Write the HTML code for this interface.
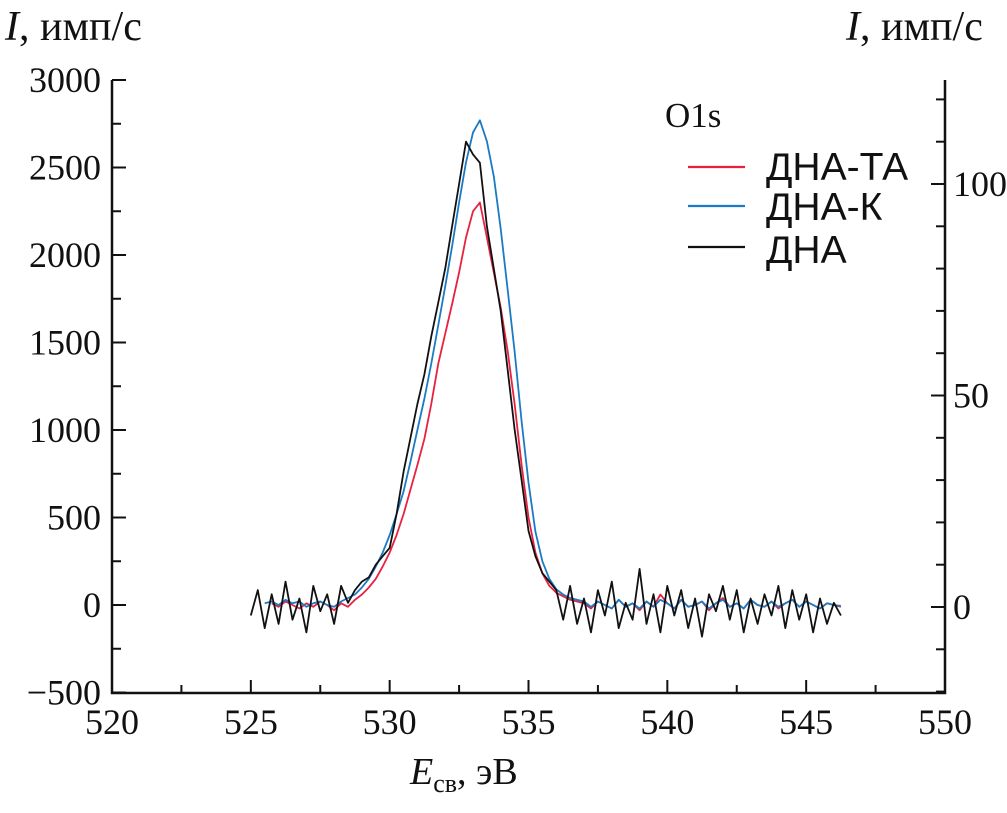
<!DOCTYPE html>
<html><head><meta charset="utf-8"><style>
html,body{margin:0;padding:0;background:#fff;}
svg text{font-family:"Liberation Serif",serif;fill:#111;}
</style></head><body>
<svg id="chart" width="1007" height="808" viewBox="0 0 1007 808" xmlns="http://www.w3.org/2000/svg">
<g id="axes"></g>
<g id="series"></g>
<g id="legend">
 <text x="665" y="127" font-size="35">O1s</text>
 <line x1="688" y1="167" x2="745" y2="167" stroke="#e8213f" stroke-width="2.2"/>
 <text x="766" y="180" font-size="39" style="font-family:'Liberation Sans',sans-serif">ДНА-ТА</text>
 <line x1="688" y1="206" x2="745" y2="206" stroke="#1a7bc4" stroke-width="2.2"/>
 <text x="766" y="220" font-size="39" style="font-family:'Liberation Sans',sans-serif">ДНА-К</text>
 <line x1="688" y1="247" x2="745" y2="247" stroke="#111" stroke-width="2.2"/>
 <text x="766" y="263" font-size="39" style="font-family:'Liberation Sans',sans-serif">ДНА</text>
</g>
<text x="5" y="40" font-size="42"><tspan font-style="italic">I</tspan>, имп/с</text>
<text x="846" y="40" font-size="42"><tspan font-style="italic">I</tspan>, имп/с</text>
<text x="410" y="784" font-size="38"><tspan font-style="italic">E</tspan><tspan font-size="26" dy="8">св</tspan><tspan dy="-8">, эВ</tspan></text>
</svg>
<script>
const energyStart = 525;
const energyStep = 0.25;
const xTicks = [520, 525, 530, 535, 540, 545, 550];
const leftTicks = [-500, 0, 500, 1000, 1500, 2000, 2500, 3000];
const rightTicks = [0, 50, 100];
const seriesDnaTa = [null,null,null,10,-10,20,0,-20,10,-10,20,0,-30,10,-10,30,60,100,150,220,300,400,520,660,800,950,1150,1380,1550,1720,1900,2100,2250,2300,2100,1900,1700,1450,1150,800,500,300,180,110,70,50,30,20,10,-20,20,0,-20,30,-10,10,-30,20,-10,60,10,-20,30,-10,0,20,-30,10,40,-10,10,-20,30,0,-10,20,-20,10,30,-10,20,0,-20,10,0,-10];
const seriesDnaK = [null,null,10,20,0,30,10,20,-10,10,20,0,-10,20,40,60,100,150,220,300,400,520,650,820,1000,1180,1380,1600,1820,2050,2300,2530,2700,2770,2650,2450,2150,1800,1450,1050,700,420,250,150,90,60,40,30,20,-10,20,0,-20,30,-10,10,-20,20,-10,30,10,-20,30,-10,0,20,-20,10,30,-10,10,-20,30,0,-10,20,-10,10,30,-10,20,0,-20,10,0,-5];
const seriesDna = [
 -2,4,-5,3,
 -4,6,-3,2,
 -6,5,-1,3,
 -4,5,1,4,
 6,7,10,12,
 14,22,32,40,
 48,55,64,72,
 80,90,100,110,
 107,105,90,80,
 70,56,42,30,
 18,12,8,6,
 4,-3,5,-4,
 2,-6,4,-2,
 6,-5,1,-3,
 9,-4,3,-6,
 5,-2,4,-5,
 2,-7,3,-1,
 5,-3,4,-6,
 2,-4,3,-2,
 5,-5,4,-3,
 3,-6,2,-4,
 1,-2];
const X0 = 112, X1 = 945, Y0 = 605, YB = 693;
function sx(e){ return X0 + (e-520)*(X1-X0)/30; }
function syL(v){ return Y0 - v*87.5/500; }
function syR(v){ return 607 - v*4.23; }
const NS = "http://www.w3.org/2000/svg";
const axes = document.getElementById('axes');
function mk(tag, attrs, parent){ const el=document.createElementNS(NS,tag); for(const k in attrs) el.setAttribute(k,attrs[k]); parent.appendChild(el); return el; }
let el = mk('path',{d:`M${X0},80 V${YB} H${X1} V80`,fill:'none',stroke:'#111','stroke-width':2.5},axes);


for(let e=520;e<=550;e+=2.5){
  const major = (e%5===0);
  el = mk('line',{x1:sx(e),x2:sx(e),y1:YB,y2:YB-(major?13:8),stroke:'#111','stroke-width':2},axes);
  
  
}
xTicks.forEach(t=>{
  el = mk('text',{x:sx(t),y:734,'font-size':36,'text-anchor':'middle'},axes);
  el.textContent = t;
  
  
});
for(let v=-500;v<=3000;v+=250){
  const major = (v%500===0);
  el = mk('line',{x1:X0,x2:X0+(major?14:9),y1:syL(v),y2:syL(v),stroke:'#111','stroke-width':2},axes);
  
  
}
leftTicks.forEach(t=>{
  el = mk('text',{x:101,y:syL(t)+12,'font-size':36,'text-anchor':'end'},axes);
  el.textContent = t<0 ? '\u2212'+Math.abs(t) : t;
  
  
});
for(let v=-20;v<=120;v+=10){
  const major = (v%50===0);
  el = mk('line',{x1:X1,x2:X1-(major?14:9),y1:syR(v),y2:syR(v),stroke:'#111','stroke-width':2},axes);
  
  
}
rightTicks.forEach(t=>{
  el = mk('text',{x:953,y:syR(t)+12,'font-size':36},axes);
  el.textContent = t;
  
  
});
const sg = document.getElementById('series');
function draw(vals, fy, color, name){
  let d='';
  vals.forEach((v,i)=>{ if(v===null) return; const x=sx(energyStart+i*energyStep), y=fy(v); d += (d?'L':'M')+x.toFixed(1)+','+y.toFixed(1); });
  const p = mk('path',{d:d,fill:'none',stroke:color,'stroke-width':1.8,'stroke-linejoin':'round'},sg);
  
  
}
draw(seriesDnaTa, syL, '#e8213f', 'series-dna-ta');
draw(seriesDnaK, syL, '#1a7bc4', 'series-dna-k');
draw(seriesDna, syR, '#111', 'series-dna');
</script>
</body></html>
